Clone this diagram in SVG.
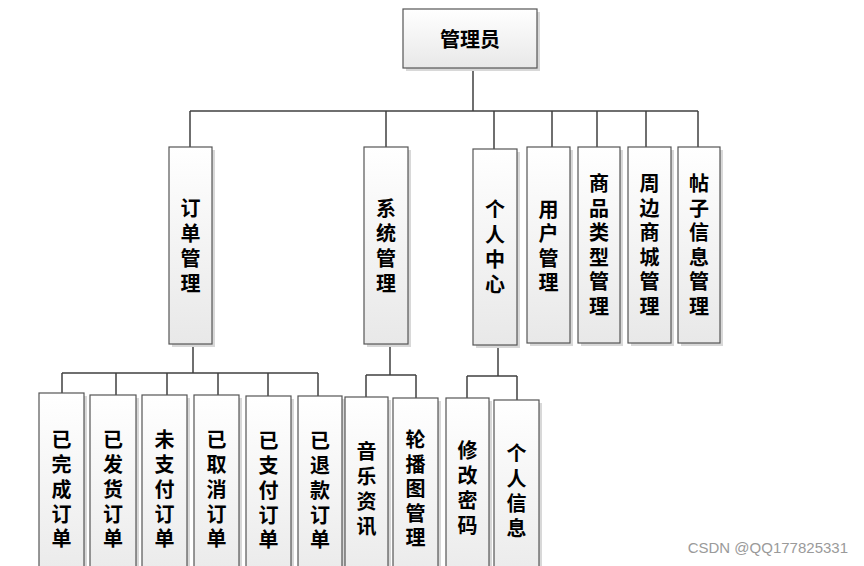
<svg xmlns="http://www.w3.org/2000/svg" width="864" height="566" viewBox="0 0 864 566">
<defs>
<linearGradient id="g" x1="0" y1="0" x2="0" y2="1">
<stop offset="0" stop-color="#ffffff"/>
<stop offset="1" stop-color="#e8e8e8"/>
</linearGradient>
<style>
.box{fill:url(#g);stroke:#555;stroke-width:1.2}
.sh{fill:#d8d8d8}
.t{font-family:"Noto Sans CJK SC","Noto Sans",sans-serif;font-size:20px;font-weight:bold;fill:#000;text-anchor:middle;dominant-baseline:central}
.c{fill:none;stroke:#404040;stroke-width:1.5}
.wm{font-family:"Liberation Sans",Arial,sans-serif;font-size:15px;fill:#9a9a9a;text-anchor:end}
</style>
</defs>
<rect width="864" height="566" fill="#fff"/>
<g id="connectors">
<path class="c" d="M473 68V111M190 111H698M190 111V147M386 111V147M494 111V149M552 111V147M597 111V147M646 111V147M698 111V147"/>
<path class="c" d="M193 344V373M62 373H318M62 373V393M116 373V395M167 373V395M218 373V395M268 373V396M318 373V396"/>
<path class="c" d="M390 344V375M366 375H416M366 375V397M416 375V398"/>
<path class="c" d="M498 345V376M467 376H517M467 376V398M517 376V400"/>
</g>
<g id="n0"><rect class="sh" x="406" y="12" width="134" height="59"/><rect class="box" x="403" y="9" width="134" height="59"/><text class="t" x="470" y="38">管理员</text></g>
<g id="n1"><rect class="sh" x="172" y="150" width="43" height="197"/><rect class="box" x="169" y="147" width="43" height="197"/><text class="t"><tspan x="190.5" y="207">订</tspan><tspan x="190.5" y="232">单</tspan><tspan x="190.5" y="257">管</tspan><tspan x="190.5" y="282">理</tspan></text></g>
<g id="n2"><rect class="sh" x="367" y="150" width="44" height="197"/><rect class="box" x="364" y="147" width="44" height="197"/><text class="t"><tspan x="386" y="207">系</tspan><tspan x="386" y="232">统</tspan><tspan x="386" y="257">管</tspan><tspan x="386" y="282">理</tspan></text></g>
<g id="n3"><rect class="sh" x="476" y="152" width="44" height="196"/><rect class="box" x="473" y="149" width="44" height="196"/><text class="t"><tspan x="495" y="208">个</tspan><tspan x="495" y="233">人</tspan><tspan x="495" y="258">中</tspan><tspan x="495" y="283">心</tspan></text></g>
<g id="n4"><rect class="sh" x="530" y="150" width="43" height="196"/><rect class="box" x="527" y="147" width="43" height="196"/><text class="t"><tspan x="548.5" y="207.5">用</tspan><tspan x="548.5" y="232">户</tspan><tspan x="548.5" y="256.5">管</tspan><tspan x="548.5" y="281">理</tspan></text></g>
<g id="n5"><rect class="sh" x="581" y="150" width="42" height="196"/><rect class="box" x="578" y="147" width="42" height="196"/><text class="t"><tspan x="599" y="182">商</tspan><tspan x="599" y="206.5">品</tspan><tspan x="599" y="231">类</tspan><tspan x="599" y="255.5">型</tspan><tspan x="599" y="280">管</tspan><tspan x="599" y="304.5">理</tspan></text></g>
<g id="n6"><rect class="sh" x="631" y="150" width="43" height="196"/><rect class="box" x="628" y="147" width="43" height="196"/><text class="t"><tspan x="649.5" y="182">周</tspan><tspan x="649.5" y="206.5">边</tspan><tspan x="649.5" y="231">商</tspan><tspan x="649.5" y="255.5">城</tspan><tspan x="649.5" y="280">管</tspan><tspan x="649.5" y="304.5">理</tspan></text></g>
<g id="n7"><rect class="sh" x="681" y="150" width="42" height="196"/><rect class="box" x="678" y="147" width="42" height="196"/><text class="t"><tspan x="699" y="182">帖</tspan><tspan x="699" y="206.5">子</tspan><tspan x="699" y="231">信</tspan><tspan x="699" y="255.5">息</tspan><tspan x="699" y="280">管</tspan><tspan x="699" y="304.5">理</tspan></text></g>
<g id="n8"><rect class="sh" x="42" y="396" width="45" height="200"/><rect class="box" x="39" y="393" width="45" height="200"/><text class="t"><tspan x="61.5" y="438">已</tspan><tspan x="61.5" y="463">完</tspan><tspan x="61.5" y="488">成</tspan><tspan x="61.5" y="513">订</tspan><tspan x="61.5" y="537">单</tspan></text></g>
<g id="n9"><rect class="sh" x="93" y="398" width="46" height="200"/><rect class="box" x="90" y="395" width="46" height="200"/><text class="t"><tspan x="113" y="438">已</tspan><tspan x="113" y="463">发</tspan><tspan x="113" y="488">货</tspan><tspan x="113" y="513">订</tspan><tspan x="113" y="537">单</tspan></text></g>
<g id="n10"><rect class="sh" x="145" y="398" width="45" height="200"/><rect class="box" x="142" y="395" width="45" height="200"/><text class="t"><tspan x="164.5" y="438">未</tspan><tspan x="164.5" y="463">支</tspan><tspan x="164.5" y="488">付</tspan><tspan x="164.5" y="513">订</tspan><tspan x="164.5" y="537">单</tspan></text></g>
<g id="n11"><rect class="sh" x="197" y="398" width="45" height="200"/><rect class="box" x="194" y="395" width="45" height="200"/><text class="t"><tspan x="216.5" y="438">已</tspan><tspan x="216.5" y="463">取</tspan><tspan x="216.5" y="488">消</tspan><tspan x="216.5" y="513">订</tspan><tspan x="216.5" y="537">单</tspan></text></g>
<g id="n12"><rect class="sh" x="249" y="399" width="45" height="200"/><rect class="box" x="246" y="396" width="45" height="200"/><text class="t"><tspan x="268.5" y="439">已</tspan><tspan x="268.5" y="464">支</tspan><tspan x="268.5" y="489">付</tspan><tspan x="268.5" y="514">订</tspan><tspan x="268.5" y="538">单</tspan></text></g>
<g id="n13"><rect class="sh" x="301" y="399" width="44" height="200"/><rect class="box" x="298" y="396" width="44" height="200"/><text class="t"><tspan x="320" y="439">已</tspan><tspan x="320" y="464">退</tspan><tspan x="320" y="489">款</tspan><tspan x="320" y="514">订</tspan><tspan x="320" y="538">单</tspan></text></g>
<g id="n14"><rect class="sh" x="348" y="400" width="43" height="200"/><rect class="box" x="345" y="397" width="43" height="200"/><text class="t"><tspan x="366.5" y="450">音</tspan><tspan x="366.5" y="475">乐</tspan><tspan x="366.5" y="500">资</tspan><tspan x="366.5" y="525">讯</tspan></text></g>
<g id="n15"><rect class="sh" x="396" y="401" width="45" height="200"/><rect class="box" x="393" y="398" width="45" height="200"/><text class="t"><tspan x="415.5" y="438">轮</tspan><tspan x="415.5" y="462.5">播</tspan><tspan x="415.5" y="487">图</tspan><tspan x="415.5" y="511.5">管</tspan><tspan x="415.5" y="536">理</tspan></text></g>
<g id="n16"><rect class="sh" x="449" y="401" width="43" height="200"/><rect class="box" x="446" y="398" width="43" height="200"/><text class="t"><tspan x="467.5" y="449">修</tspan><tspan x="467.5" y="474">改</tspan><tspan x="467.5" y="499">密</tspan><tspan x="467.5" y="524">码</tspan></text></g>
<g id="n17"><rect class="sh" x="497" y="403" width="45" height="200"/><rect class="box" x="494" y="400" width="45" height="200"/><text class="t"><tspan x="516.5" y="452">个</tspan><tspan x="516.5" y="477">人</tspan><tspan x="516.5" y="502">信</tspan><tspan x="516.5" y="527">息</tspan></text></g>
<text class="wm" x="848" y="553">CSDN @QQ177825331</text>
</svg>
